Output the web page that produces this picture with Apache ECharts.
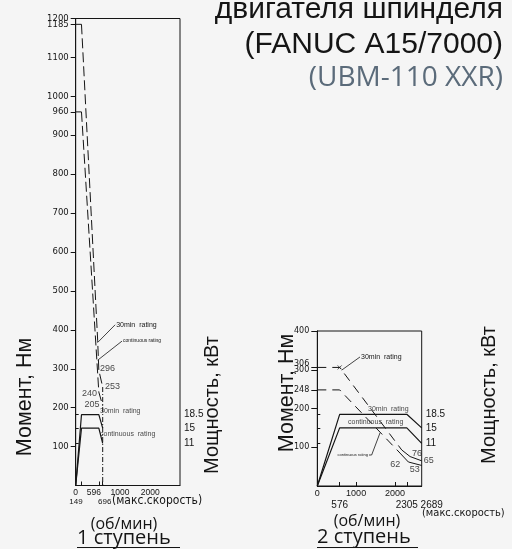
<!DOCTYPE html>
<html><head><meta charset="utf-8">
<script src="https://cdn.jsdelivr.net/npm/echarts@6/dist/echarts.min.js"></script>
<style>html,body{margin:0;padding:0;background:#f5f5f5;}#c{width:512px;height:549px;}</style>
</head><body><div id="c"></div>
<script>
// ---------- data ----------
const xTicks1Top = [0, 596, 1000, 2000];
const xTicks1Bottom = [149, 696];
const xTickMarks1 = [149, 596, 696];
const xTicks2Top = [0, 1000, 2000];
const xTicks2Bottom = [576, 2305, 2689];
const xTickMarks2 = [576, 1000, 2000, 2305];
const torqueTicks1 = [100, 200, 300, 400, 500, 600, 700, 800, 900, 1000, 1100, 1200, 960, 1185];
const torqueTicks2 = [100, 200, 300, 400, 248, 306];
const powerTicks = [11, 15, 18.5];

// stage 1 (torque Nm / power kW vs rpm)
const torque30_1 = [[0, 1185], [149, 1185], [567, 372], [596, 296], [696, 253]];
const torqueCont_1 = [[0, 960], [149, 960], [596, 240], [696, 205]];
const power30_1 = [[0, 0], [149, 18.5], [596, 18.5], [696, 15]];
const powerCont_1 = [[0, 0], [149, 15], [596, 15], [696, 11]];
const maxSpeed1 = [[696, 253], [696, 0]];
const torqueMarks1Right = [[596, 296], [696, 253]];
const torqueMarks1Left = [[596, 240], [696, 205]];

// stage 2
const torque30_2 = [[0, 306], [576, 306], [2175, 93], [2390, 76], [2689, 65]];
const torqueCont_2 = [[0, 248], [576, 248], [2130, 85], [2345, 62], [2689, 53]];
const power30_2 = [[0, 0], [576, 18.5], [2305, 18.5], [2689, 15]];
const powerCont_2 = [[0, 0], [576, 15], [2305, 15], [2689, 11]];

// annotation anchors (data units)
const lead1Torque30 = [[561, 367], [1017, 413]];
const lead1TorqueCont = [[567, 322], [1193, 371]];
const note1Power30 = [626, 19.4];
const note1PowerCont = [626, 13.4];
const lead2Torque30 = [[628, 299], [1100, 333]];
const cross2 = [[576, 306]];
const note2Power30 = [1306, 19.9];
const note2PowerCont = [790, 16.4];
const lead2PowerContSmall = [[1331, 8.0], [1400, 8.0], [1615, 13.7]];

// ---------- styles ----------
const INK = '#151515';
const F = 'Liberation Sans, Arial, sans-serif';
const FD = 'DejaVu Sans, sans-serif';
const FO = 'Open Sans, sans-serif';
const FN = 'Liberation Sans Narrow, DejaVu Sans Condensed, Liberation Sans, sans-serif';

// shifts: positive = right / down, negative = left / up
function shifted(shifts, fontSize, fontFamily, vshift) {
  const rich = {}; const names = {}; let i = 0;
  for (const k in shifts) {
    const s = shifts[k]; const n = 's' + (i++);
    rich[n] = { fontSize, fontFamily, color: INK, padding: [0, s < 0 ? -2 * s : 0, 0, s > 0 ? 2 * s : 0] };
    names[k] = n;
  }
  for (const k in (vshift || {})) {
    const s = vshift[k]; const n = 's' + (i++);
    rich[n] = { fontSize, fontFamily, color: INK, padding: [s > 0 ? 2 * s : 0, 0, s < 0 ? -2 * s : 0, 0] };
    names[k] = n;
  }
  return { rich, formatter: v => names[v] ? `{${names[v]}|${v}}` : `${v}` };
}

function xAxes(grid, max, topVals, botVals, tickVals, topFont, botFont, topShift, botShift, botOffset) {
  const a = shifted(topShift, topFont, F);
  const b = shifted(botShift, botFont, F);
  return [{
    gridIndex: grid, type: 'value', min: 0, max: max, position: 'bottom',
    axisLine: { show: true, lineStyle: { color: INK, width: 1 } },
    axisTick: { show: true, inside: true, length: 4, customValues: tickVals, lineStyle: { color: INK } },
    axisLabel: { show: true, customValues: topVals, margin: 3, fontSize: topFont, fontFamily: F, color: INK, formatter: a.formatter, rich: a.rich },
    splitLine: { show: false }
  }, {
    gridIndex: grid, type: 'value', min: 0, max: max, position: 'bottom', offset: botOffset,
    axisLine: { show: false }, axisTick: { show: false },
    axisLabel: { show: true, customValues: botVals, margin: 3, fontSize: botFont, fontFamily: F, color: INK, formatter: b.formatter, rich: b.rich },
    splitLine: { show: false }
  }];
}

function yAxes(grid, tMax, tVals, pMax, tVshift, tFont, tTick) {
  const t = shifted({}, tFont, FD, tVshift);
  return [{
    gridIndex: grid, type: 'value', min: 0, max: tMax, position: 'left',
    axisLine: { show: true, lineStyle: { color: INK } },
    axisTick: { show: true, length: tTick, customValues: tVals, lineStyle: { color: INK } },
    axisLabel: { customValues: tVals, margin: tTick + 2, fontSize: tFont, fontFamily: FD, color: INK, formatter: t.formatter, rich: t.rich },
    splitLine: { show: false }
  }, {
    gridIndex: grid, type: 'value', min: 0, max: pMax, position: 'right',
    axisLine: { show: true, lineStyle: { color: INK } },
    axisTick: { show: true, length: 3, customValues: powerTicks, lineStyle: { color: INK } },
    axisLabel: { customValues: powerTicks, margin: 4, fontSize: 10, fontFamily: F, color: INK },
    splitLine: { show: false }
  }];
}

function line(data, xi, yi, type, width) {
  return { type: 'line', data: data, xAxisIndex: xi, yAxisIndex: yi, symbol: 'none', silent: true,
    lineStyle: { color: INK, width: width || 1, type: type || 'solid' }, z: 3 };
}
function leader(data, xi, yi, text, fs, pos) {
  const d = data.map(p => p.slice());
  const idx = pos === 'left' ? 0 : d.length - 1;
  d[idx] = { value: d[idx], label: { show: true, position: pos || 'right', distance: 1, formatter: text, fontSize: fs, fontFamily: F, color: INK } };
  const s = line(d, xi, yi, 'solid', 0.8);
  s.symbol = 'circle'; s.symbolSize = 0.1; s.showSymbol = true; s.itemStyle = { color: INK };
  return s;
}
function note(p, xi, yi, text, fs) {
  return { type: 'scatter', xAxisIndex: xi, yAxisIndex: yi, symbolSize: 0.1, silent: true,
    data: [p], label: { show: true, position: 'right', distance: 0, formatter: text, fontSize: fs, fontFamily: F, color: INK } };
}
function values(points, xi, yi, offsets) {
  return { type: 'scatter', xAxisIndex: xi, yAxisIndex: yi, symbolSize: 0.1, silent: true,
    data: points.map((p, i) => ({ value: p, label: { show: true, position: 'inside', offset: offsets[i], formatter: String(p[1]), fontSize: 9, fontFamily: F, color: INK } })) };
}

const xa1 = xAxes(0, 2689, xTicks1Top, xTicks1Bottom, xTickMarks1, 8.5, 8, { 596: -5, 1000: 5.5, 2000: -3 }, { 149: -5.5, 696: 2 }, 9.5);
const xa2 = xAxes(1, 2689, xTicks2Top, xTicks2Bottom, xTickMarks2, 9, 10, {}, { 2689: 10 }, 11);
const ya1 = yAxes(0, 1200, torqueTicks1, 122, {}, 8.5, 5);
const ya2 = yAxes(1, 400, torqueTicks2, 40, { 306: -4 }, 8, 6);

const DASH1 = [10, 4];
const DASH2 = [9, 6];

const series = [
  // stage 1
  line(torque30_1.slice(0, 2), 0, 0, 'solid'),
  line(torque30_1.slice(1), 0, 0, DASH1),
  line(torqueCont_1.slice(0, 2), 0, 0, 'solid'),
  line(torqueCont_1.slice(1), 0, 0, DASH1),
  line(power30_1, 0, 1, 'solid', 1.2),
  line(powerCont_1, 0, 1, 'solid', 1.2),
  line(maxSpeed1, 0, 0, [5, 2, 1, 2]),
  values(torqueMarks1Right, 0, 0, [[8.7, -1.8], [9.8, -1]]),
  values(torqueMarks1Left, 0, 0, [[-9.3, 1], [-10.7, -1.2]]),
  leader(lead1Torque30, 0, 0, '30min  rating', 7),
  leader(lead1TorqueCont, 0, 0, 'continuous rating', 5),
  note(note1Power30, 0, 1, '30min  rating', 7),
  note(note1PowerCont, 0, 1, 'continuous  rating', 7),
  // stage 2
  line(torque30_2.slice(0, 3), 2, 2, DASH2),
  line(torque30_2.slice(2), 2, 2, 'solid'),
  line(torqueCont_2.slice(0, 3), 2, 2, DASH2),
  line(torqueCont_2.slice(2), 2, 2, 'solid'),
  line(power30_2, 2, 3, 'solid', 1.2),
  line(powerCont_2, 2, 3, 'solid', 1.2),
  values([torque30_2[3], torque30_2[4]], 2, 2, [[7, -3.5], [7, 0]]),
  values([torqueCont_2[3], torqueCont_2[4]], 2, 2, [[-13, 3], [-7, 4.5]]),
  leader(lead2Torque30, 2, 2, '30min  rating', 7),
  { type: 'scatter', xAxisIndex: 2, yAxisIndex: 2, data: cross2, silent: true, symbol: 'path://M0 0L10 10M10 0L0 10', symbolSize: 4,
    itemStyle: { color: 'none', borderColor: INK, borderWidth: 0.9 } },
  note(note2Power30, 2, 3, '30min  rating', 7),
  note(note2PowerCont, 2, 3, 'continuous  rating', 7),
  leader(lead2PowerContSmall, 2, 3, 'continuous rating', 4, 'left')
];

function txt(x, y, text, size, opts) {
  return Object.assign({ type: 'text', x: x, y: y, silent: true,
    style: Object.assign({ text: text, fontSize: size, fontFamily: F, fill: INK, align: 'center', verticalAlign: 'middle' }, (opts && opts.style) || {}) },
    opts && opts.rotation !== undefined ? { rotation: opts.rotation } : {});
}
const R = Math.PI / 2;
const graphics = [
  txt(503, 10, 'двигателя шпинделя', 30, { style: { align: 'right' } }),
  txt(503, 45, '(FANUC A15/7000)', 30, { style: { align: 'right' } }),
  txt(503, 78, '(UBM-110 XXR)', 28, { style: { align: 'right', fontFamily: FO, fill: '#5b6b7a' } }),
  txt(25, 397, 'Момент, Нм', 21.5, { rotation: R }),
  txt(212, 405, 'Мощность, кВт', 20, { rotation: R }),
  txt(287, 393, 'Момент, Нм', 21.5, { rotation: R }),
  txt(489, 395, 'Мощность, кВт', 20, { rotation: R }),
  txt(112, 501, '(макс.скорость)', 12, { style: { align: 'left', fontFamily: FN } }),
  txt(422, 513, '(макс.скорость)', 11, { style: { align: 'left', fontFamily: FN } }),
  txt(124, 524, '(об/мин)', 16, { style: { fontFamily: FO } }),
  txt(367, 521, '(об/мин)', 16, { style: { fontFamily: FO } }),
  txt(77, 538, '1 ступень', 20, { style: { fontFamily: FO, align: 'left' } }),
  txt(317, 537, '2 ступень', 20, { style: { fontFamily: FO, align: 'left' } }),
  { type: 'line', silent: true, shape: { x1: 77, y1: 547.5, x2: 180, y2: 547.5 }, style: { stroke: INK, lineWidth: 1.2 } },
  { type: 'line', silent: true, shape: { x1: 317, y1: 547.5, x2: 418, y2: 547.5 }, style: { stroke: INK, lineWidth: 1.2 } }
];

const chart = echarts.init(document.getElementById('c'));
chart.setOption({
  backgroundColor: '#f5f5f5',
  animation: false,
  grid: [
    { left: 75.7, top: 18.5, width: 104.3, height: 467, show: true, borderColor: INK, borderWidth: 1, backgroundColor: 'transparent' },
    { left: 317.3, top: 331, width: 104.4, height: 155, show: true, borderColor: INK, borderWidth: 1, backgroundColor: 'transparent' }
  ],
  xAxis: [xa1[0], xa1[1], xa2[0], xa2[1]],
  yAxis: [ya1[0], ya1[1], ya2[0], ya2[1]],
  series: series,
  graphic: graphics
});
</script>
</body></html>
